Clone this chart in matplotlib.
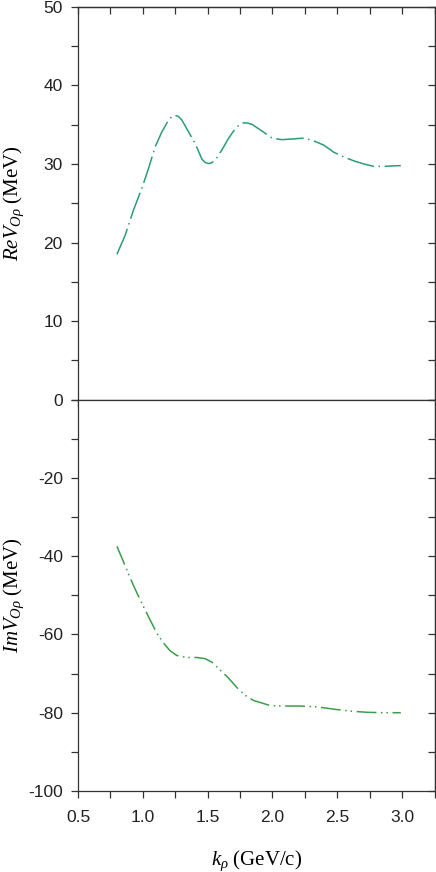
import matplotlib
matplotlib.use('Agg')
import matplotlib.pyplot as plt
from matplotlib.ticker import MultipleLocator, FixedLocator

# lettertypes: serif voor aslabels, sans voor getallen
plt.rcParams['mathtext.fontset'] = 'custom'
plt.rcParams['mathtext.rm'] = 'Liberation Serif'
plt.rcParams['mathtext.it'] = 'Liberation Serif:italic'
plt.rcParams['font.family'] = ['Liberation Sans', 'DejaVu Sans']

k_re = [0.80, 0.863, 0.927, 0.992, 1.043, 1.095, 1.147, 1.198, 1.225, 1.250,
        1.275, 1.301, 1.352, 1.404, 1.456, 1.480, 1.507, 1.530, 1.559, 1.610,
        1.662, 1.713, 1.745, 1.778, 1.810, 1.842, 1.919, 1.997, 2.074, 2.164,
        2.241, 2.318, 2.396, 2.473, 2.550, 2.628, 2.705, 2.782, 2.859, 2.99]
re_v = [18.5, 20.9, 24.1, 26.9, 29.4, 32.2, 34.1, 35.6, 36.05, 36.2,
        36.05, 35.6, 34.1, 32.6, 30.6, 30.2, 30.05, 30.15, 30.5, 31.8,
        33.3, 34.5, 35.0, 35.25, 35.2, 35.05, 34.2, 33.3, 33.1, 33.2,
        33.3, 32.95, 32.4, 31.5, 30.9, 30.4, 30.0, 29.7, 29.7, 29.8]

k_im = [0.80, 0.850, 0.902, 0.954, 1.005, 1.056, 1.108, 1.159, 1.211, 1.263,
        1.340, 1.417, 1.481, 1.533, 1.597, 1.662, 1.726, 1.791, 1.855, 1.906,
        1.984, 2.087, 2.216, 2.345, 2.473, 2.602, 2.731, 2.859, 2.99]
im_v = [-37.5, -41.4, -45.6, -49.4, -52.9, -56.3, -59.7, -62.2, -64.2, -65.4,
        -65.9, -65.9, -66.2, -67.1, -69.1, -71.2, -73.6, -75.6, -76.9, -77.4,
        -78.2, -78.3, -78.3, -78.5, -79.1, -79.6, -79.9, -80.0, -80.0]

fig = plt.figure(figsize=(4.36, 8.72), dpi=100)
ax1 = fig.add_axes([0.179, 0.5418, 0.8176, 0.4502])
ax2 = fig.add_axes([0.179, 0.0929, 0.8176, 0.4489])

spinekleur = '#333333'
tl = dict(length=5, width=0.9, color=spinekleur, labelsize=12.5,
          labelcolor='#222222', pad=6)

ax1.plot(k_re, re_v, color='#2a9d78', lw=1.1, dashes=(18, 3, 1, 3))
ax2.plot(k_im, im_v, color='#3a9e48', lw=1.1, dashes=(13, 3, 1, 2.5, 1, 3))

# y-assen
ax1.set_ylim(0, 50)
ax1.yaxis.set_major_locator(MultipleLocator(10))
ax1.yaxis.set_minor_locator(MultipleLocator(5))
ax2.set_ylim(-100, 0)
ax2.yaxis.set_major_locator(FixedLocator([-100, -80, -60, -40, -20]))
ax2.yaxis.set_minor_locator(FixedLocator([-90, -70, -50, -30, -10, 0]))

for ax, stap in ((ax1, 5), (ax2, 10)):
    ax.set_xlim(0.5, 3.25)
    for s in ax.spines.values():
        s.set_color(spinekleur)
        s.set_linewidth(0.9)
    ax.xaxis.set_major_locator(MultipleLocator(0.5))
    ax.xaxis.set_minor_locator(MultipleLocator(0.25))
    ax.xaxis.set_major_formatter(lambda v, p: f'{v:.1f}')
    ax.tick_params(axis='both', which='both', direction='out', **tl)
    ax.tick_params(axis='x', which='both', top=False, bottom=True)
    ax.tick_params(axis='y', which='both', left=True, right=False)
    # rechter as: tikjes naar binnen
    sy = ax.secondary_yaxis('right')
    sy.yaxis.set_major_locator(MultipleLocator(stap * 2))
    sy.yaxis.set_minor_locator(MultipleLocator(stap))
    sy.tick_params(axis='y', which='both', direction='in', labelright=False, **tl)
    sy.spines['right'].set_color(spinekleur)
    sy.spines['right'].set_linewidth(0.9)

ax2.yaxis.set_major_formatter(lambda v, p: f'{v:.0f}')
ax1.tick_params(axis='x', which='both', labelbottom=False)

# bovenrand: tikjes naar binnen
sx = ax1.secondary_xaxis('top')
sx.xaxis.set_major_locator(MultipleLocator(0.5))
sx.xaxis.set_minor_locator(MultipleLocator(0.25))
sx.tick_params(axis='x', which='both', direction='in', labeltop=False, **tl)
sx.spines['top'].set_color(spinekleur)
sx.spines['top'].set_linewidth(0.9)

ax2.tick_params(axis='x', pad=9)

ax1.set_ylabel(r'$ReV_{O\rho}\ \mathrm{(MeV)}$', fontsize=15)
ax2.set_ylabel(r'$ImV_{O\rho}\ \mathrm{(MeV)}$', fontsize=15)
ax1.yaxis.set_label_coords(-0.145, 0.5)
ax2.yaxis.set_label_coords(-0.145, 0.5)
ax2.set_xlabel(r'$k_{\rho}\ \mathrm{(GeV/c)}$', fontsize=15)
ax2.xaxis.set_label_coords(0.5, -0.148)

fig.savefig('out.png', dpi=100)
